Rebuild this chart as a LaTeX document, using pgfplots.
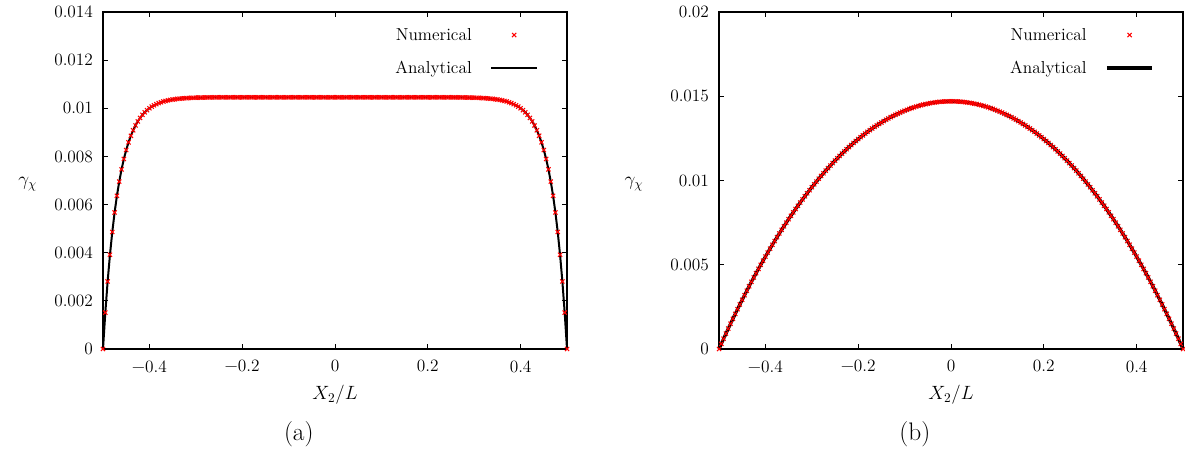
\documentclass[border=0pt]{standalone}
\usepackage{fontspec}
\usepackage{pgfplots}
\pgfplotsset{compat=1.18}
\usepackage{pgfplotstable}

\pgfplotstableread{
x y
-0.500 0
-0.495 0.001513
-0.490 0.002807
-0.485 0.003914
-0.480 0.004861
-0.475 0.005671
-0.470 0.006364
-0.465 0.006956
-0.460 0.007463
-0.455 0.007897
-0.450 0.008267
-0.445 0.008585
-0.440 0.008856
-0.435 0.009088
-0.430 0.009286
-0.425 0.009456
-0.420 0.009601
-0.415 0.009725
-0.410 0.009832
-0.405 0.009923
-0.400 0.010000
-0.395 0.010067
-0.390 0.010124
-0.385 0.010172
-0.380 0.010214
-0.375 0.010250
-0.370 0.010280
-0.365 0.010306
-0.360 0.010328
-0.355 0.010347
-0.350 0.010364
-0.345 0.010378
-0.340 0.010390
-0.335 0.010400
-0.330 0.010408
-0.325 0.010416
-0.320 0.010422
-0.315 0.010428
-0.310 0.010432
-0.305 0.010436
-0.300 0.010440
-0.295 0.010443
-0.290 0.010445
-0.285 0.010447
-0.280 0.010449
-0.275 0.010451
-0.270 0.010452
-0.265 0.010453
-0.260 0.010454
-0.255 0.010455
-0.250 0.010456
-0.245 0.010456
-0.240 0.010456
-0.235 0.010456
-0.230 0.010456
-0.225 0.010456
-0.220 0.010456
-0.215 0.010456
-0.210 0.010456
-0.205 0.010456
-0.200 0.010456
-0.195 0.010456
-0.190 0.010456
-0.185 0.010456
-0.180 0.010456
-0.175 0.010456
-0.170 0.010456
-0.165 0.010456
-0.160 0.010456
-0.155 0.010456
-0.150 0.010456
-0.145 0.010456
-0.140 0.010456
-0.135 0.010456
-0.130 0.010456
-0.125 0.010456
-0.120 0.010456
-0.115 0.010456
-0.110 0.010456
-0.105 0.010456
-0.100 0.010456
-0.095 0.010456
-0.090 0.010456
-0.085 0.010456
-0.080 0.010456
-0.075 0.010456
-0.070 0.010456
-0.065 0.010456
-0.060 0.010456
-0.055 0.010456
-0.050 0.010456
-0.045 0.010456
-0.040 0.010456
-0.035 0.010456
-0.030 0.010456
-0.025 0.010456
-0.020 0.010456
-0.015 0.010456
-0.010 0.010456
-0.005 0.010456
0.000 0.010456
0.005 0.010456
0.010 0.010456
0.015 0.010456
0.020 0.010456
0.025 0.010456
0.030 0.010456
0.035 0.010456
0.040 0.010456
0.045 0.010456
0.050 0.010456
0.055 0.010456
0.060 0.010456
0.065 0.010456
0.070 0.010456
0.075 0.010456
0.080 0.010456
0.085 0.010456
0.090 0.010456
0.095 0.010456
0.100 0.010456
0.105 0.010456
0.110 0.010456
0.115 0.010456
0.120 0.010456
0.125 0.010456
0.130 0.010456
0.135 0.010456
0.140 0.010456
0.145 0.010456
0.150 0.010456
0.155 0.010456
0.160 0.010456
0.165 0.010456
0.170 0.010456
0.175 0.010456
0.180 0.010456
0.185 0.010456
0.190 0.010456
0.195 0.010456
0.200 0.010456
0.205 0.010456
0.210 0.010456
0.215 0.010456
0.220 0.010456
0.225 0.010456
0.230 0.010456
0.235 0.010456
0.240 0.010456
0.245 0.010456
0.250 0.010456
0.255 0.010455
0.260 0.010454
0.265 0.010453
0.270 0.010452
0.275 0.010451
0.280 0.010449
0.285 0.010447
0.290 0.010445
0.295 0.010443
0.300 0.010440
0.305 0.010436
0.310 0.010432
0.315 0.010428
0.320 0.010422
0.325 0.010416
0.330 0.010408
0.335 0.010400
0.340 0.010390
0.345 0.010378
0.350 0.010364
0.355 0.010347
0.360 0.010328
0.365 0.010306
0.370 0.010280
0.375 0.010250
0.380 0.010214
0.385 0.010172
0.390 0.010124
0.395 0.010067
0.400 0.010000
0.405 0.009923
0.410 0.009832
0.415 0.009725
0.420 0.009601
0.425 0.009456
0.430 0.009286
0.435 0.009088
0.440 0.008856
0.445 0.008585
0.450 0.008267
0.455 0.007897
0.460 0.007463
0.465 0.006956
0.470 0.006364
0.475 0.005671
0.480 0.004861
0.485 0.003914
0.490 0.002807
0.495 0.001513
0.500 0
}\dataA

\pgfplotstableread{
x y
-0.500 0
-0.495 0.000307
-0.490 0.000612
-0.485 0.000913
-0.480 0.001211
-0.475 0.001505
-0.470 0.001795
-0.465 0.002082
-0.460 0.002365
-0.455 0.002644
-0.450 0.002920
-0.445 0.003192
-0.440 0.003461
-0.435 0.003726
-0.430 0.003987
-0.425 0.004245
-0.420 0.004500
-0.415 0.004751
-0.410 0.004998
-0.405 0.005242
-0.400 0.005483
-0.395 0.005720
-0.390 0.005954
-0.385 0.006184
-0.380 0.006411
-0.375 0.006635
-0.370 0.006855
-0.365 0.007072
-0.360 0.007286
-0.355 0.007496
-0.350 0.007704
-0.345 0.007907
-0.340 0.008108
-0.335 0.008306
-0.330 0.008500
-0.325 0.008691
-0.320 0.008879
-0.315 0.009063
-0.310 0.009245
-0.305 0.009423
-0.300 0.009598
-0.295 0.009770
-0.290 0.009939
-0.285 0.010105
-0.280 0.010268
-0.275 0.010427
-0.270 0.010584
-0.265 0.010737
-0.260 0.010888
-0.255 0.011035
-0.250 0.011179
-0.245 0.011321
-0.240 0.011459
-0.235 0.011594
-0.230 0.011727
-0.225 0.011856
-0.220 0.011983
-0.215 0.012106
-0.210 0.012226
-0.205 0.012344
-0.200 0.012459
-0.195 0.012570
-0.190 0.012679
-0.185 0.012785
-0.180 0.012888
-0.175 0.012988
-0.170 0.013085
-0.165 0.013179
-0.160 0.013270
-0.155 0.013359
-0.150 0.013444
-0.145 0.013527
-0.140 0.013607
-0.135 0.013684
-0.130 0.013758
-0.125 0.013829
-0.120 0.013898
-0.115 0.013964
-0.110 0.014026
-0.105 0.014086
-0.100 0.014143
-0.095 0.014198
-0.090 0.014249
-0.085 0.014298
-0.080 0.014344
-0.075 0.014387
-0.070 0.014428
-0.065 0.014465
-0.060 0.014500
-0.055 0.014532
-0.050 0.014561
-0.045 0.014588
-0.040 0.014611
-0.035 0.014632
-0.030 0.014650
-0.025 0.014665
-0.020 0.014678
-0.015 0.014688
-0.010 0.014694
-0.005 0.014699
0.000 0.014700
0.005 0.014699
0.010 0.014694
0.015 0.014688
0.020 0.014678
0.025 0.014665
0.030 0.014650
0.035 0.014632
0.040 0.014611
0.045 0.014588
0.050 0.014561
0.055 0.014532
0.060 0.014500
0.065 0.014465
0.070 0.014428
0.075 0.014387
0.080 0.014344
0.085 0.014298
0.090 0.014249
0.095 0.014198
0.100 0.014143
0.105 0.014086
0.110 0.014026
0.115 0.013964
0.120 0.013898
0.125 0.013829
0.130 0.013758
0.135 0.013684
0.140 0.013607
0.145 0.013527
0.150 0.013444
0.155 0.013359
0.160 0.013270
0.165 0.013179
0.170 0.013085
0.175 0.012988
0.180 0.012888
0.185 0.012785
0.190 0.012679
0.195 0.012570
0.200 0.012459
0.205 0.012344
0.210 0.012226
0.215 0.012106
0.220 0.011983
0.225 0.011856
0.230 0.011727
0.235 0.011594
0.240 0.011459
0.245 0.011321
0.250 0.011179
0.255 0.011035
0.260 0.010888
0.265 0.010737
0.270 0.010584
0.275 0.010427
0.280 0.010268
0.285 0.010105
0.290 0.009939
0.295 0.009770
0.300 0.009598
0.305 0.009423
0.310 0.009245
0.315 0.009063
0.320 0.008879
0.325 0.008691
0.330 0.008500
0.335 0.008306
0.340 0.008108
0.345 0.007907
0.350 0.007704
0.355 0.007496
0.360 0.007286
0.365 0.007072
0.370 0.006855
0.375 0.006635
0.380 0.006411
0.385 0.006184
0.390 0.005954
0.395 0.005720
0.400 0.005483
0.405 0.005242
0.410 0.004998
0.415 0.004751
0.420 0.004500
0.425 0.004245
0.430 0.003987
0.435 0.003726
0.440 0.003461
0.445 0.003192
0.450 0.002920
0.455 0.002644
0.460 0.002365
0.465 0.002082
0.470 0.001795
0.475 0.001505
0.480 0.001211
0.485 0.000913
0.490 0.000612
0.495 0.000307
0.500 0
}\dataB

\newcommand{\tfont}{\fontsize{13}{15}\selectfont}
\newcommand{\lfont}{\fontsize{13}{15}\selectfont}

\pgfplotsset{
  gp/.style={
    scale only axis,
    width=348pt, height=252.75pt,
    xmin=-0.5, xmax=0.5, ymin=0,
    xtick={-0.4,-0.2,0,0.2,0.4},
    xticklabels={−0.4,−0.2,0,0.2,0.4},
    tick align=inside,
    axis line style={line width=1.1pt},
    major tick style={line width=0.7pt, black},
    major tick length=4pt,
    scaled y ticks=false,
    yticklabel style={/pgf/number format/assume math mode=true, /pgf/number format/fixed, /pgf/number format/precision=3, font=\tfont, xshift=-4pt},
    xticklabel style={font=\tfont, yshift=-5pt},
    clip=false,
    xlabel={$X_2/L$},
    ylabel={$\gamma_\chi$},
    label style={font=\Large},
    xlabel style={at={(axis description cs:0.5,-0.151)}, anchor=base},
    legend plot pos=right,
    legend cell align=right,
    legend image code/.code={\draw[mark repeat=2,mark phase=2,##1] plot coordinates {(0cm,0cm) (0.6cm,0cm) (1.2cm,0cm)};},
    legend style={draw=none, fill=none, font=\lfont, anchor=north east,
      at={(axis description cs:0.9465,0.969)}, row sep=10pt, column sep=12pt},
  }
}

\begin{document}
\begin{tikzpicture}[x=1pt,y=1pt]
\useasboundingbox (-77.25,-77.25) rectangle (811.5,261.75);
\begin{axis}[gp, at={(0pt,0pt)}, anchor=south west,
  ymax=0.014,
  ytick={0,0.002,0.004,0.006,0.008,0.01,0.012,0.014},
  ylabel style={rotate=-90, at={(axis description cs:-0.162,0.49)}, anchor=center}]
\addplot[only marks, mark=x, mark size=2.2pt, color=red, mark options={line width=0.8pt}] table[x=x,y=y] {\dataA};
\addlegendentry{Numerical}
\addplot[no marks, black, line width=1.5pt] table[x=x,y=y] {\dataA};
\addlegendentry{Analytical}
\node[font=\fontsize{19}{22}\selectfont] at (axis description cs:0.422,-0.254) {(a)};
\end{axis}
\begin{axis}[gp, at={(462pt,0pt)}, anchor=south west,
  ymax=0.02,
  ytick={0,0.005,0.01,0.015,0.02},
  ylabel style={rotate=-90, at={(axis description cs:-0.183,0.49)}, anchor=center}]
\addplot[only marks, mark=x, mark size=2.2pt, color=red, mark options={line width=0.8pt}] table[x=x,y=y] {\dataB};
\addlegendentry{Numerical}
\addplot[no marks, black, line width=2.4pt] table[x=x,y=y] {\dataB};
\addlegendentry{Analytical}
\node[font=\fontsize{19}{22}\selectfont] at (axis description cs:0.422,-0.254) {(b)};
\end{axis}
\end{tikzpicture}
\end{document}
